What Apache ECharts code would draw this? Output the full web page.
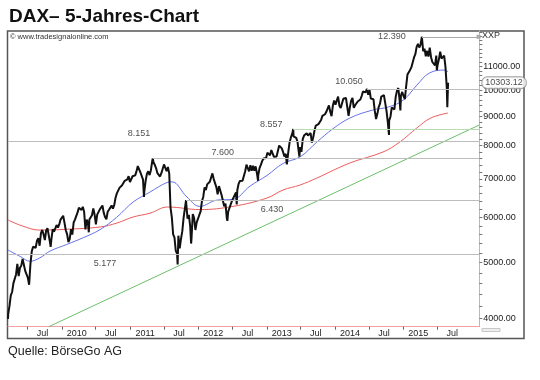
<!DOCTYPE html>
<html><head><meta charset="utf-8">
<script src="https://cdn.jsdelivr.net/npm/echarts@6/dist/echarts.min.js"></script>
<style>html,body{margin:0;padding:0;background:#fff}#c{width:540px;height:380px}</style>
</head><body><div id="c"></div>
<script>
// ---------- texts ----------
const titleText = 'DAX– 5-Jahres-Chart';
const sourceText = 'Quelle: BörseGo AG';
const copyrightText = '© www.tradesignalonline.com';
const symbolText = 'XXP';
const lastPrice = 10303.12;

// ---------- price data (weekly closes, Fridays) ----------
const weeklyStart = '2009-03-20';
const close2009 = [4066,4203,4384,4445,4606,4586,4770,4978,4737,4900,4941,5077,5052,4839,4854,4708,4576,4978,5230,5332,5361,5309,5462,5518,5353,5625,5703,5605,5477,5689,5744,5776,5415,5492,5722,5663,5685,5817,5757,5831,5946];
const close2010 = [5957,6037,5875,5696,5608,5434,5500,5722,5598,5877,5945,5982,6120,6235,6250,6180,6259,6136,5716,5946,5829,5946,5938,6050,6216,6070,5834,6065,6040,6195,6148,6292,6110,6005,5951,6135,6185,6238,6294,6211,6303,6492,6605,6601,6754,6708,6824,6850,6947,6948,6986,7077,6914];
const close2011 = [6947,7076,7062,7102,7216,7371,7426,7185,7178,6982,6664,6946,7150,7217,7110,7250,7514,7492,7404,7304,7163,7109,7069,7164,7121,7420,7419,7220,7344,7159,6236,5997,5602,5537,5246,5190,5574,5295,5502,5675,5995,5971,6346,5966,6057,5800,5493,6080,5987,5702,5878,5898];
const close2012 = [6057,6143,6404,6511,6766,6692,6849,6864,6921,6880,7157,6996,6947,6775,6583,6801,6812,6561,6579,6271,6340,5978,6130,6229,6263,6416,6410,6558,6630,6689,6865,6944,6971,6949,6970,7214,7412,7451,7216,7398,7233,7380,7232,7363,7163,7101,7309,7405,7518,7597,7636,7612];
const close2013 = [7776,7715,7702,7860,7834,7652,7593,7661,7708,8004,8043,7912,7795,7658,7744,7459,7814,8122,8278,8398,8305,8349,8254,8127,7789,7959,7806,8212,8331,8300,8410,8338,8391,8416,8103,8275,8510,8675,8661,8725,8725,8870,9018,9010,9078,9168,9225,9405,9172,9006,9400,9589];
const close2014 = [9435,9473,9742,9393,9306,9290,9662,9656,9692,9351,9056,9342,9588,9695,9315,9409,9401,9556,9581,9630,9768,9943,9987,9912,9987,9815,10009,9666,9720,9644,9210,9010,9092,9339,9470,9747,9691,9799,9490,9195,8788,8850,8988,9326,9291,9252,9732,9980,10087,9594,9787,9927];
const close2015 = [9764,9648,10167,10649,10694,10846,10963,11051,11401,11551,11901,12039,11868,12010,12375,11689,11811,11454,11709,11447,11865,11413,11197,11197,11041,11492,11058,11316,11673,11347,11309,11490,10985,10124,10303];
// daily extremes visible as spikes in the picture
const dailyExtremes = [
  ['2009-03-19',3990],['2009-11-02',5330],['2010-05-25',5650],['2011-03-16',6514],['2011-05-02',7600],
  ['2011-09-12',4965],['2011-10-27',6430],['2011-11-23',5400],['2012-06-04',5915],['2012-07-24',6320],
  ['2012-11-15',6950],['2013-04-18',7420],['2013-05-22',8557],['2013-06-24',7655],['2014-03-14',9017],
  ['2014-06-20',10050],['2014-08-08',8903],['2014-10-16',8355],['2014-12-16',9219],['2015-04-10',12390],
  ['2015-06-29',10832],['2015-08-24',9338]
];

// ---------- indicator lines ----------
const blueAvg = [['2009-03-19',5262],['2009-05-22',5130],['2009-07-15',5030],['2009-09-06',5100],['2009-10-30',5240],['2010-01-27',5380],['2010-04-26',5530],['2010-07-24',5710],['2010-10-21',6000],['2011-01-17',6380],['2011-04-17',6640],['2011-07-17',6900],['2011-08-12',6920],['2011-11-01',6510],['2012-01-09',6270],['2012-04-10',6430],['2012-07-04',6450],['2012-10-03',6800],['2013-01-02',7100],['2013-03-29',7450],['2013-06-28',7650],['2013-09-26',8120],['2013-12-20',8560],['2014-03-21',8940],['2014-07-20',9230],['2014-10-15',9350],['2015-01-01',9610],['2015-03-14',10200],['2015-05-20',10710],['2015-08-10',10840],['2015-08-28',10760]];
const redAvg = [['2009-03-19',5936],['2009-06-01',5800],['2009-09-06',5700],['2010-01-30',5720],['2010-07-24',5772],['2010-10-23',5865],['2011-01-17',6008],['2011-04-17',6100],['2011-07-21',6254],['2012-01-09',6190],['2012-07-04',6270],['2013-01-02',6484],['2013-03-29',6697],['2013-06-28',6832],['2013-09-26',7027],['2014-03-21',7463],['2014-09-14',7800],['2014-12-13',8120],['2015-03-14',8590],['2015-05-28',8942],['2015-08-28',9123]];
const trendLine = [['2009-10-23',3867],['2016-02-11',8694]];

// ---------- horizontal levels ----------
const levelValues = [12390, 10050, 8557, 8151, 7600, 6430, 5177];
const levelStarts = ['2015-04-10','2014-06-20','2013-05-22','2009-03-19','2011-05-02','2011-10-27','2009-03-19'];

// ---------- axes ----------
const xMin = '2009-03-19', xMax = '2016-02-11';
const yMin = 3867, yMax = 12681;
const xTickDates = ['2009-07-01','2010-01-01','2010-07-01','2011-01-01','2011-07-01','2012-01-01','2012-07-01','2013-01-01','2013-07-01','2014-01-01','2014-07-01','2015-01-01','2015-07-01'];
const xTickLabels = ['Jul','2010','Jul','2011','Jul','2012','Jul','2013','Jul','2014','Jul','2015','Jul'];
const yLabelValues = [4000,5000,6000,7000,8000,9000,10000,11000];

// ---------- styles ----------
const FONT = 'Liberation Sans';
const DAY = 86400000;
const labelShiftDays = 80;
const levelColors = ['#a9a9a9','#bdbdbd','#b9dbb2','#bdbdbd','#bdbdbd','#bdbdbd','#bdbdbd'];
const levelLabelOffsets = [[-30,0],[-18,-7],[-22,-4],[131,-8],[70,-6],[86,9],[97,9]];

function ts(s){const p=s.split('-').map(Number);return Date.UTC(p[0],p[1]-1,p[2]);}
function fmtLevel(v){return String(v).replace(/\B(?=(\d{3})+(?!\d))/g,'.');}

// build price series
const allCloses = [].concat(close2009,close2010,close2011,close2012,close2013,close2014,close2015);
const priceMap = new Map();
allCloses.forEach((v,i)=>priceMap.set(ts(weeklyStart)+i*7*DAY, v));
dailyExtremes.forEach(([d,v])=>priceMap.set(ts(d), v));
const priceData = Array.from(priceMap.entries()).sort((a,b)=>a[0]-b[0]);

const toTs = arr => arr.map(([d,v])=>[ts(d),v]);
const xTicks = xTickDates.map(ts);
const xLabelPos = xTicks.map(t=>t+labelShiftDays*DAY);
const yTicks = [];
for(let v=4000; v<=12600; v+=200) yTicks.push(v);

const chart = echarts.init(document.getElementById('c'), null, {renderer:'canvas'});
chart.setOption({
  animation:false,
  backgroundColor:'#fff',
  textStyle:{fontFamily:FONT},
  grid:{left:8, top:31, width:471.3, height:295.7, outerBoundsMode:'none', containLabel:false},
  xAxis:{
    type:'value', min:ts(xMin), max:ts(xMax), scale:true,
    axisLine:{show:true, lineStyle:{color:'#f2a0a0', width:1}},
    axisTick:{show:true, customValues:xTicks, length:3, lineStyle:{color:'#666'}},
    axisLabel:{show:true, customValues:xLabelPos, margin:2, fontSize:9, color:'#222', fontFamily:FONT,
      formatter:function(val){const i=xLabelPos.findIndex(t=>Math.abs(t-val)<DAY);return i>=0?xTickLabels[i]:'';}},
    splitLine:{show:false}
  },
  yAxis:{
    type:'log', logBase:10, min:yMin, max:yMax, position:'right',
    axisLine:{show:true, lineStyle:{color:'#f2a0a0', width:1}},
    axisTick:{show:true, customValues:yTicks, length:3, lineStyle:{color:'#777'}},
    axisLabel:{show:true, customValues:yLabelValues, margin:4, fontSize:9, color:'#222', fontFamily:FONT,
      formatter:function(v){return Number(v).toFixed(2);}},
    splitLine:{show:false}, minorTick:{show:false}
  },
  series:[
    {name:'levels', type:'line', data:[], silent:true,
      markLine:{silent:true, symbol:['none','none'], animation:false,
        label:{show:false},
        data:levelValues.map((v,i)=>[
          {coord:[ts(levelStarts[i]), v], lineStyle:{color:levelColors[i], width:1.2, type:'solid'}},
          i===0 ? {coord:[ts(xMax)-4*DAY, v], symbol:'rect', symbolSize:[4,4]} : {coord:[ts(xMax), v]}
        ])}
    },
    {name:'trend', type:'line', data:toTs(trendLine), showSymbol:false, symbol:'none',
      lineStyle:{color:'#6cbf6c', width:1}, silent:true},
    {name:'red', type:'line', data:toTs(redAvg), showSymbol:false, symbol:'none', smooth:0.4,
      lineStyle:{color:'#ee5c5c', width:1}, silent:true},
    {name:'blue', type:'line', data:toTs(blueAvg), showSymbol:false, symbol:'none', smooth:0.4,
      lineStyle:{color:'#6673ea', width:1}, silent:true},
    {name:'DAX', type:'line', data:priceData, showSymbol:false, symbol:'none',
      lineStyle:{color:'#111', width:2}, silent:true},
    {name:'lastPrice', type:'scatter', symbolSize:0, silent:true, z:10,
      data:[[ts(xMax), lastPrice]],
      label:{show:true, position:'right', distance:3, formatter:lastPrice.toFixed(2),
        fontSize:9, color:'#222', fontFamily:FONT, backgroundColor:'#fff', borderColor:'#888', borderWidth:1,
        borderRadius:5, padding:[1,3,1,3]}
    },
    {name:'levelLabels', type:'scatter', symbolSize:0, silent:true,
      data:levelValues.map((v,i)=>({value:[ts(levelStarts[i]), v], label:{offset:levelLabelOffsets[i]}})),
      label:{show:true, position:'inside', fontSize:9, color:'#222', fontFamily:FONT,
        formatter:p=>fmtLevel(p.value[1])}
    }
  ],
  graphic:[
    {type:'text', left:9, top:7, style:{text:titleText, font:'bold 19px "Liberation Sans"', fill:'#111'}},
    {type:'text', left:8, top:345, style:{text:sourceText, font:'12.5px "Liberation Sans"', fill:'#222'}},
    {type:'text', left:10, top:33, style:{text:copyrightText, font:'7.5px "Liberation Sans"', fill:'#333'}},
    {type:'text', left:482, top:31, style:{text:symbolText, font:'9px "Liberation Sans"', fill:'#333'}},
    {type:'rect', shape:{x:7.5, y:31, width:516.5, height:307.5}, style:{fill:null, stroke:'#555', lineWidth:1.5}, silent:true},
    {type:'rect', shape:{x:482, y:328.5, width:18, height:3}, style:{fill:'#eee', stroke:'#bbb', lineWidth:0.8}, silent:true}
  ]
});
</script></body></html>
